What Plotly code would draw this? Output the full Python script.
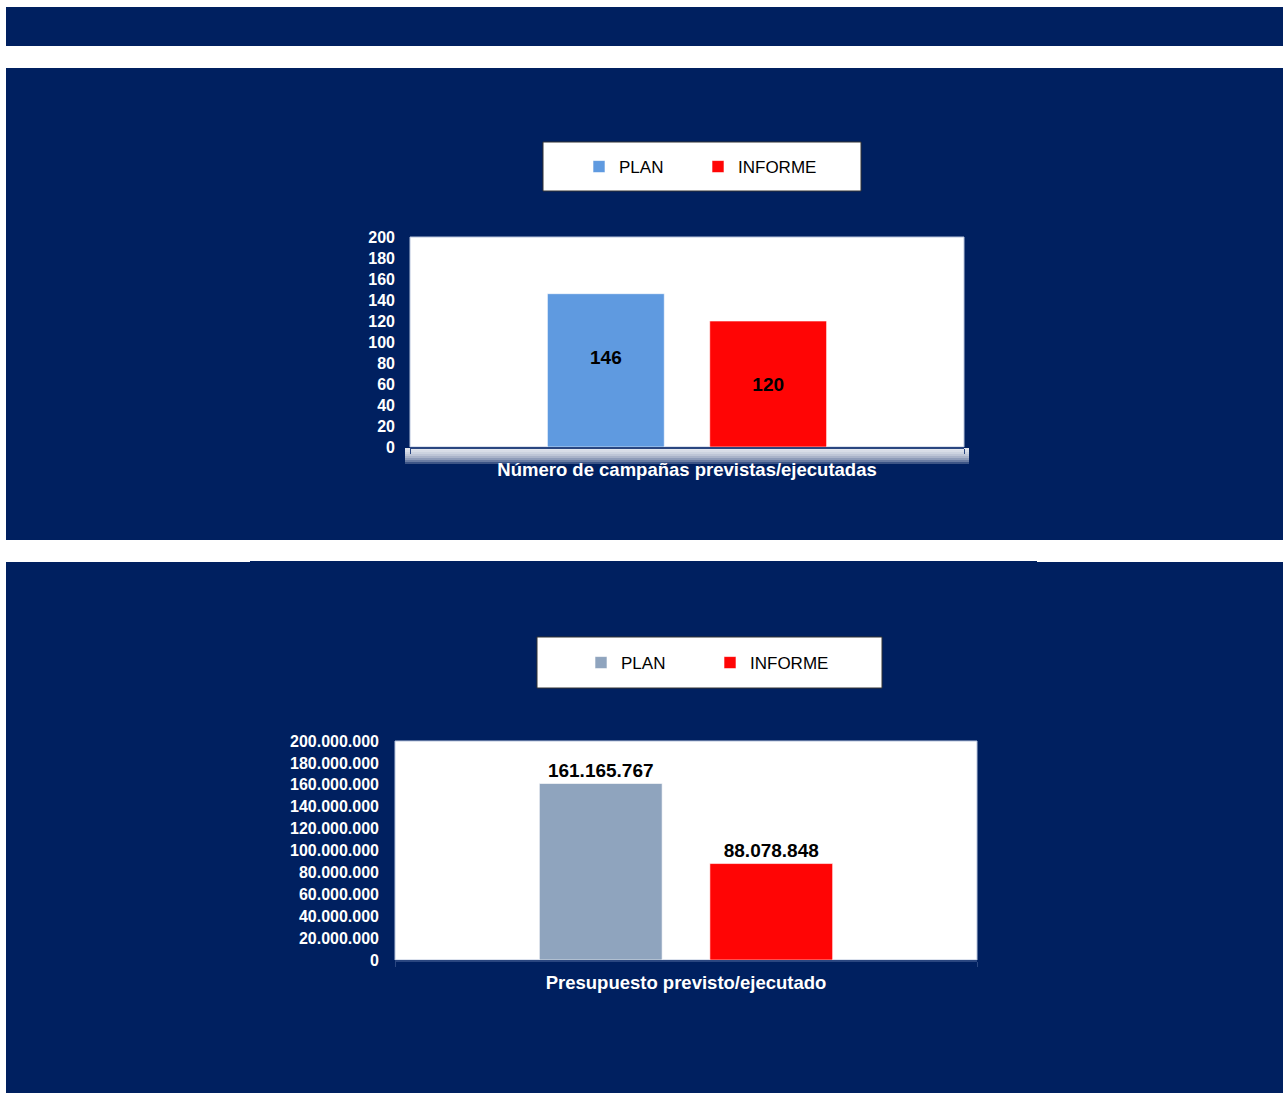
import plotly.graph_objects as go

# ---------------- data ----------------
series_names = ["PLAN", "INFORME"]
cat_campaigns = ["Número de campañas previstas/ejecutadas"]
plan_campaigns = [146]
informe_campaigns = [120]
cat_budget = ["Presupuesto previsto/ejecutado"]
plan_budget = [161165767]
informe_budget = [88078848]
ticks_campaigns = [0, 20, 40, 60, 80, 100, 120, 140, 160, 180, 200]
ticks_budget = [0, 20000000, 40000000, 60000000, 80000000, 100000000,
                120000000, 140000000, 160000000, 180000000, 200000000]

# ---------------- layout helpers ----------------
W, H = 1288, 1094
NAVY = "#002060"
FONT = "Arial, Liberation Sans, sans-serif"


def px(x):
    return x / W


def py(y):
    return 1 - y / H


def rect(x0, y0, x1, y1, fill, line=None, lw=0):
    return dict(type="rect", xref="paper", yref="paper",
                x0=px(x0), x1=px(x1), y0=py(y1), y1=py(y0),
                fillcolor=fill, line=dict(color=line or "rgba(0,0,0,0)", width=lw),
                layer="below")


fig = go.Figure()

label_font = dict(family=FONT, size=19, color="black", weight="bold")
edge = dict(color="rgba(255,255,255,0.6)", width=1)

# chart 1
fig.add_trace(go.Bar(x=cat_campaigns, y=plan_campaigns, name=series_names[0],
                     marker=dict(color="#5F9AE0", line=edge),
                     texttemplate="%{y}<br> ", textposition="inside", insidetextanchor="middle",
                     textfont=label_font, constraintext="none",
                     xaxis="x", yaxis="y", legend="legend"))
fig.add_trace(go.Bar(x=cat_campaigns, y=informe_campaigns, name=series_names[1],
                     marker=dict(color="#FF0505", line=edge),
                     texttemplate="%{y}", textposition="inside", insidetextanchor="middle",
                     textfont=label_font, constraintext="none",
                     xaxis="x", yaxis="y", legend="legend"))
# chart 2
fig.add_trace(go.Bar(x=cat_budget, y=plan_budget, name=series_names[0],
                     marker=dict(color="#8FA4BE", line=edge),
                     texttemplate="%{y:,d}", textposition="outside",
                     textfont=label_font, cliponaxis=False,
                     xaxis="x2", yaxis="y2", legend="legend2"))
fig.add_trace(go.Bar(x=cat_budget, y=informe_budget, name=series_names[1],
                     marker=dict(color="#FF0505", line=edge),
                     texttemplate="%{y:,d}", textposition="outside",
                     textfont=label_font, cliponaxis=False,
                     xaxis="x2", yaxis="y2", legend="legend2"))

# plot areas (pixels)
P1 = (410, 237, 964, 447)
P2 = (395, 741, 977, 960)

shapes = [
    rect(6, 7, 1283, 46, NAVY),
    rect(6, 68, 1283, 540, NAVY),
    rect(6, 562, 1283, 1093, NAVY),
    rect(250, 561, 1037, 563, NAVY),
]
# soft white glow under chart 1
for k in range(1, 9):
    shapes.append(rect(405, 448, 969, 448 + 2 * k, "rgba(255,255,255,0.24)"))
shapes += [
    # plot areas
    rect(*P1, "white", "#B8C4DC", 1),
    rect(*P2, "white", "#B8C4DC", 1),
    # legend boxes
    rect(543, 142, 861, 191, "white", "#333333", 1),
    rect(537, 637, 882, 688, "white", "#333333", 1),
]

xax_common = dict(showgrid=False, zeroline=False, showline=True, linecolor="#2A4680",
                  linewidth=2, ticks="outside", tickson="boundaries", ticklen=5,
                  tickcolor="#2A4680", ticklabelstandoff=5,
                  tickfont=dict(family=FONT, size=18.5, color="white", weight="bold"),
                  fixedrange=True)
yax_common = dict(showgrid=False, zeroline=False, showline=False, ticks="",
                  tickfont=dict(family=FONT, size=16, color="white", weight="bold"),
                  fixedrange=True)

legend_common = dict(orientation="h", xanchor="left", yanchor="middle",
                     bgcolor="rgba(0,0,0,0)", borderwidth=0,
                     font=dict(family=FONT, size=17, color="black"),
                     entrywidthmode="pixels", itemclick=False, itemdoubleclick=False)

fig.update_layout(
    width=W, height=H,
    margin=dict(l=0, r=0, t=0, b=0, pad=0, autoexpand=False),
    paper_bgcolor="white",
    plot_bgcolor="rgba(0,0,0,0)",
    separators=",.",
    barmode="group",
    bargap=0.414,
    bargroupgap=0.28,
    shapes=shapes,
    xaxis=dict(domain=[px(P1[0]), px(P1[2])], anchor="y", **xax_common),
    yaxis=dict(domain=[py(P1[3]), py(P1[1])], anchor="x", range=[0, 200],
               tickvals=ticks_campaigns, ticklabelstandoff=14, **yax_common),
    xaxis2=dict(domain=[px(P2[0]), px(P2[2])], anchor="y2", **xax_common),
    yaxis2=dict(domain=[py(P2[3]), py(P2[1])], anchor="x2", range=[0, 200000000],
                tickvals=ticks_budget, tickformat=",d", ticklabelstandoff=15, **yax_common),
    legend=dict(x=px(579), y=py(167), entrywidth=74, **legend_common),
    legend2=dict(x=px(581), y=py(663), entrywidth=84, **legend_common),
    showlegend=True,
)

fig.write_html("out.html")
